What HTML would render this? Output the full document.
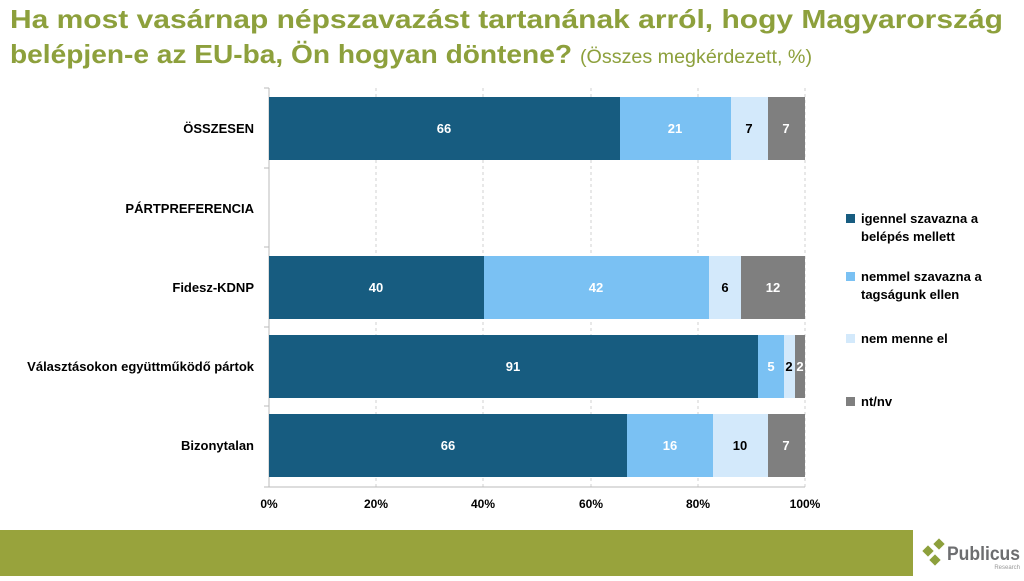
<!DOCTYPE html>
<html><head><meta charset="utf-8"><style>
body{margin:0;width:1024px;height:576px;overflow:hidden;background:#fff;font-family:"Liberation Sans",sans-serif}
</style></head><body>
<svg width="1024" height="576" xmlns="http://www.w3.org/2000/svg" font-family="Liberation Sans, sans-serif">
<text x="10" y="28" font-size="26" font-weight="bold" fill="#8da03c" textLength="993" lengthAdjust="spacingAndGlyphs">Ha most vasárnap népszavazást tartanának arról, hogy Magyarország</text>
<text x="10" y="63" font-size="26" font-weight="bold" fill="#8da03c" textLength="562" lengthAdjust="spacingAndGlyphs">belépjen-e az EU-ba, Ön hogyan döntene?</text>
<text x="580" y="63" font-size="19" fill="#8da03c" textLength="232" lengthAdjust="spacingAndGlyphs">(Összes megkérdezett, %)</text>
<g stroke="#d0d0d0" stroke-dasharray="3,3">
<line x1="376" y1="88" x2="376" y2="487"/><line x1="483" y1="88" x2="483" y2="487"/><line x1="591" y1="88" x2="591" y2="487"/><line x1="698" y1="88" x2="698" y2="487"/><line x1="805" y1="88" x2="805" y2="487"/>
</g>
<g stroke="#bbb"><line x1="269" y1="88" x2="269" y2="487"/><line x1="269" y1="487" x2="805" y2="487"/>
<line x1="264" y1="88" x2="269" y2="88"/><line x1="264" y1="168" x2="269" y2="168"/><line x1="264" y1="247" x2="269" y2="247"/><line x1="264" y1="327" x2="269" y2="327"/><line x1="264" y1="406" x2="269" y2="406"/><line x1="264" y1="487" x2="269" y2="487"/>
</g>
<g>
<rect x="269" y="97" width="351" height="63" fill="#175c80"/><rect x="620" y="97" width="111" height="63" fill="#7ac1f3"/><rect x="731" y="97" width="37" height="63" fill="#d3e9fb"/><rect x="768" y="97" width="37" height="63" fill="#7f7f7f"/>
<rect x="269" y="256" width="215" height="63" fill="#175c80"/><rect x="484" y="256" width="225" height="63" fill="#7ac1f3"/><rect x="709" y="256" width="32" height="63" fill="#d3e9fb"/><rect x="741" y="256" width="64" height="63" fill="#7f7f7f"/>
<rect x="269" y="335" width="489" height="63" fill="#175c80"/><rect x="758" y="335" width="26" height="63" fill="#7ac1f3"/><rect x="784" y="335" width="11" height="63" fill="#d3e9fb"/><rect x="795" y="335" width="10" height="63" fill="#7f7f7f"/>
<rect x="269" y="414" width="358" height="63" fill="#175c80"/><rect x="627" y="414" width="86" height="63" fill="#7ac1f3"/><rect x="713" y="414" width="55" height="63" fill="#d3e9fb"/><rect x="768" y="414" width="37" height="63" fill="#7f7f7f"/>
</g>
<g font-size="13" font-weight="bold" text-anchor="middle" fill="#fff">
<text x="444" y="133">66</text><text x="675" y="133">21</text><text x="749" y="133" fill="#000">7</text><text x="786" y="133">7</text>
<text x="376" y="292">40</text><text x="596" y="292">42</text><text x="725" y="292" fill="#000">6</text><text x="773" y="292">12</text>
<text x="513" y="371">91</text><text x="771" y="371">5</text><text x="789" y="371" fill="#000">2</text><text x="800" y="371">2</text>
<text x="448" y="450">66</text><text x="670" y="450">16</text><text x="740" y="450" fill="#000">10</text><text x="786" y="450">7</text>
</g>
<g font-size="13" font-weight="bold" text-anchor="end" fill="#000">
<text x="254" y="133">ÖSSZESEN</text><text x="254" y="213">PÁRTPREFERENCIA</text><text x="254" y="292">Fidesz-KDNP</text><text x="254" y="371">Választásokon együttműködő pártok</text><text x="254" y="450">Bizonytalan</text>
</g>
<g font-size="12" font-weight="bold" text-anchor="middle" fill="#000">
<text x="269" y="508">0%</text><text x="376" y="508">20%</text><text x="483" y="508">40%</text><text x="591" y="508">60%</text><text x="698" y="508">80%</text><text x="805" y="508">100%</text>
</g>
<g font-size="13" font-weight="bold" fill="#000">
<rect x="846" y="214" width="9" height="9" fill="#175c80"/><text x="861" y="223">igennel szavazna a</text><text x="861" y="241">belépés mellett</text>
<rect x="846" y="272" width="9" height="9" fill="#7ac1f3"/><text x="861" y="281">nemmel szavazna a</text><text x="861" y="299">tagságunk ellen</text>
<rect x="846" y="334" width="9" height="9" fill="#d3e9fb"/><text x="861" y="343">nem menne el</text>
<rect x="846" y="397" width="9" height="9" fill="#7f7f7f"/><text x="861" y="406">nt/nv</text>
</g>
<rect x="0" y="530" width="913" height="46" fill="#98a33c"/>
<g fill="#8da03c">
<rect x="-4" y="-4" width="8" height="8" transform="translate(939,544) rotate(45)"/>
<rect x="-4" y="-4" width="8" height="8" transform="translate(928,551) rotate(45)"/>
<rect x="-4" y="-4" width="8" height="8" transform="translate(935,560) rotate(45)"/>
</g>
<text x="947" y="560" font-size="19" font-weight="bold" fill="#6d6e70" textLength="73" lengthAdjust="spacingAndGlyphs">Publicus</text>
<text x="1020" y="569" font-size="6" fill="#999" text-anchor="end">Research</text>
</svg>
</body></html>
